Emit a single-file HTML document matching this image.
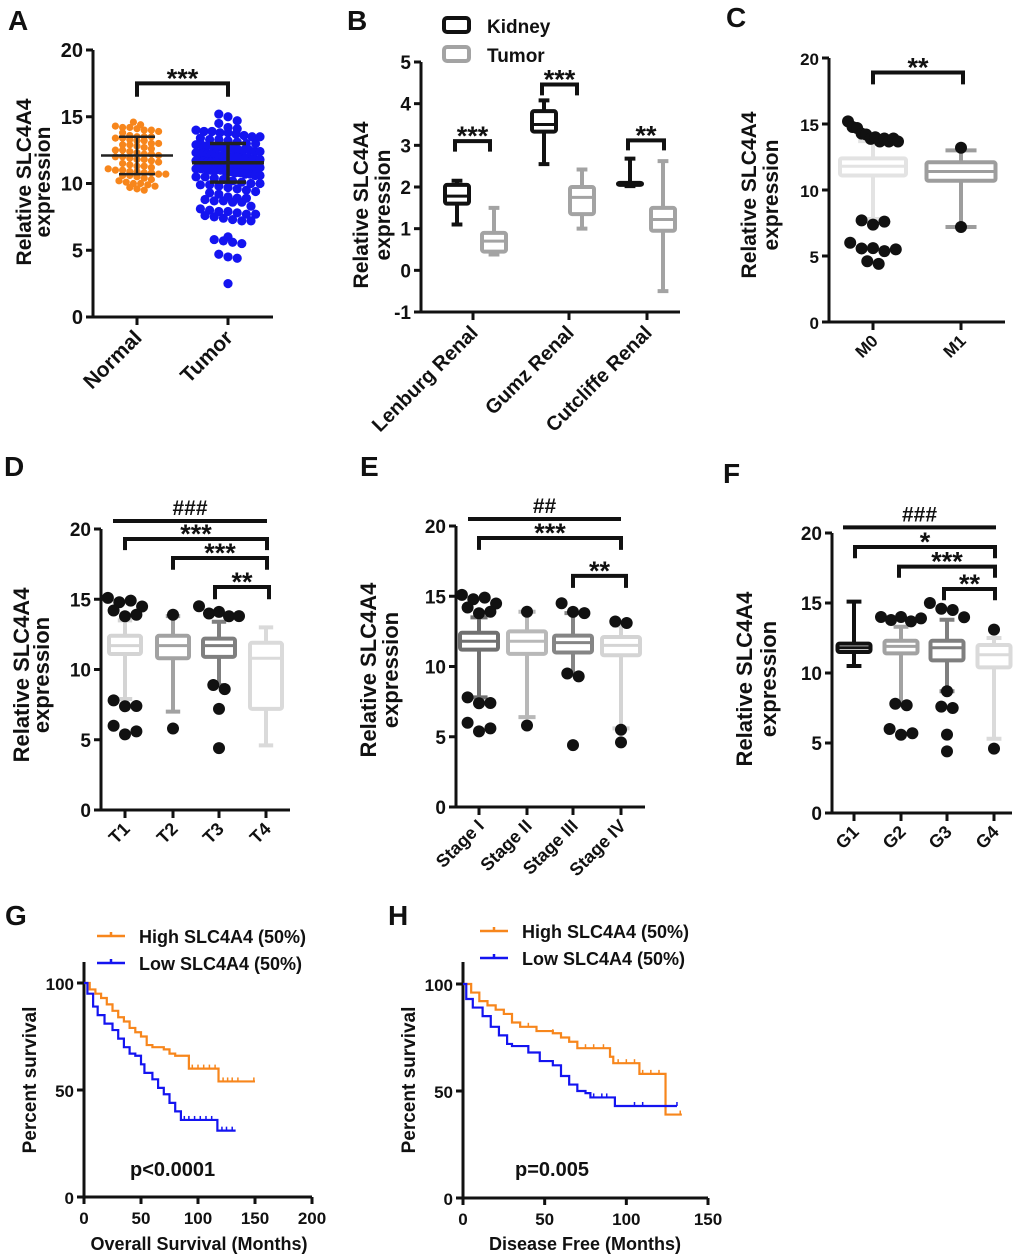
<!DOCTYPE html>
<html><head><meta charset="utf-8"><style>
html,body{margin:0;padding:0;background:#fff;}
svg{display:block;font-family:"Liberation Sans",Arial,sans-serif;font-weight:bold;}
</style></head><body>
<svg id="fig" width="1020" height="1257" viewBox="0 0 1020 1257" xmlns="http://www.w3.org/2000/svg"></svg>
<script>
// ---------- DATA ----------
const normalValues=[14.6,14.4,14.3,14.2,14.2,14.1,14.0,14.0,13.9,13.8,13.6,13.5,13.5,13.5,13.4,13.4,13.3,13.2,13.2,13.0,13.0,12.9,12.9,12.8,12.7,12.6,12.5,12.5,12.4,12.3,12.2,12.2,12.1,12.0,12.0,11.9,11.8,11.8,11.7,11.6,11.5,11.4,11.3,11.3,11.2,11.1,11.0,11.0,10.9,10.9,10.8,10.8,10.7,10.7,10.6,10.6,10.5,10.4,10.3,10.2,10.1,10.0,10.0,9.9,9.8,9.7,9.6,9.5];
const tumorValues=[15.2,15.0,14.7,14.5,14.2,14.1,14.0,13.9,13.9,13.8,13.8,13.7,13.6,13.5,13.5,13.4,13.3,13.3,13.2,13.1,13.0,13.0,12.9,12.9,12.8,12.8,12.7,12.7,12.6,12.6,12.5,12.5,12.5,12.4,12.4,12.3,12.3,12.3,12.2,12.2,12.2,12.1,12.1,12.1,12.0,12.0,12.0,11.9,11.9,11.9,11.8,11.8,11.8,11.7,11.7,11.7,11.6,11.6,11.6,11.5,11.5,11.5,11.4,11.4,11.4,11.3,11.3,11.3,11.2,11.2,11.2,11.1,11.1,11.1,11.0,11.0,11.0,10.9,10.9,10.8,10.8,10.7,10.7,10.6,10.6,10.5,10.5,10.4,10.3,10.2,10.1,10.0,10.0,9.9,9.9,9.8,9.7,9.6,9.5,9.4,9.3,9.2,9.0,8.9,8.9,8.8,8.7,8.7,8.6,8.6,8.3,8.1,8.0,7.9,7.9,7.8,7.7,7.7,7.6,7.5,7.4,7.3,7.2,7.2,6.0,5.8,5.7,5.6,5.5,4.7,4.5,4.4,2.5];
const aStats=[[12.1,10.7,13.5],[11.55,10.1,13.0]]; // mean, sd-low, sd-high

const bCategories=['Lenburg Renal','Gumz Renal','Cutcliffe Renal'];
const bKidney=[[1.1,1.6,1.78,2.05,2.15],[2.55,3.33,3.5,3.82,4.08],[2.02,2.05,2.07,2.1,2.68]];
const bTumor=[[0.38,0.45,0.7,0.9,1.5],[1.0,1.35,1.75,2.0,2.42],[-0.5,0.95,1.22,1.5,2.62]];

const cCategories=['M0','M1'];
const cBoxes=[[7.8,11.1,11.8,12.4,13.7],[7.2,10.7,11.4,12.1,13.0]];
const cOutliers=[[15.2,15.0,14.7,14.5,14.2,14.0,13.9,13.9,13.9,13.9,13.9,14.1,7.7,7.6,7.6,6.0,5.8,5.6,5.6,5.5,4.6,4.4],[13.2,7.2]];

const dCategories=['T1','T2','T3','T4'];
const dBoxes=[[7.9,11.1,11.7,12.4,13.5],[7.0,10.8,11.7,12.4,13.8],[8.9,10.9,11.7,12.2,13.4],[4.6,7.2,10.8,11.9,13.0]];
const dOutliers=[[15.0,15.1,14.9,14.7,14.2,14.0,13.9,7.6,7.4,7.8,6.0,5.6,5.6],[13.9,5.8],[14.5,14.2,14.0,13.8,14.1,8.6,8.9,7.2,4.4],[]];

const eCategories=['Stage I','Stage II','Stage III','Stage IV'];
const eBoxes=[[7.8,11.2,11.8,12.4,13.5],[6.4,10.9,11.8,12.5,13.9],[9.5,11.0,11.7,12.2,13.8],[5.6,10.8,11.5,12.1,12.9]];
const eOutliers=[[15.0,15.1,14.9,14.7,14.2,14.0,13.9,7.6,7.4,7.8,6.0,5.6,5.6],[13.9,5.8],[14.5,14.1,13.8,9.5,9.3,4.4],[13.2,13.1,5.5,4.6]];

const fCategories=['G1','G2','G3','G4'];
const fBoxes=[[10.5,11.5,11.8,12.1,15.1],[7.7,11.4,11.9,12.3,13.3],[8.7,10.9,11.8,12.3,13.8],[5.3,10.4,11.3,12.0,12.5]];
const fOutliers=[[],[14.0,14.0,13.9,13.9,14.0,7.8,7.7,6.0,5.7,5.8],[15.0,14.5,14.2,14.8,7.6,7.5,8.7,5.6,4.4],[13.1,4.6]];

const gHighT=[0,5,10,15,20,25,30,35,40,45,50,55,60,70,75,80,92,118,150];
const gHighS=[100,97,95,93,90,87,84,82,79,77,75,71,70,69,67,66,60,54,54];
const gLowT=[0,3,8,12,18,25,30,35,40,45,50,53,60,65,70,75,80,85,117,133];
const gLowS=[100,95,89,85,81,78,74,70,67,66,62,58,55,51,48,44,40,36,31,31];
const gHighCens=[95,100,105,110,115,122,126,130,135,149];
const gLowCens=[88,92,97,102,107,112,121,125,130];

const hHighT=[0,5,10,15,20,25,30,35,45,55,60,65,70,90,92,108,124,134];
const hHighS=[100,96,92,90,88,86,82,80,78,77,75,73,70,66,63,58,39,39];
const hLowT=[0,2,6,12,17,22,27,30,40,47,55,60,65,70,75,78,93,131];
const hLowS=[100,93,89,85,80,76,72,71,68,64,62,57,53,50,49,47,43,43];
const hHighCens=[35,40,45,55,60,75,80,86,95,100,105,110,115,120,133];
const hLowCens=[80,85,88,105,110,131];

// ---------- HELPERS ----------
const NS='http://www.w3.org/2000/svg';
const svg=document.getElementById('fig');
function mk(tag,attrs,parent){const e=document.createElementNS(NS,tag);for(const k in attrs)e.setAttribute(k,attrs[k]);(parent||svg).appendChild(e);return e;}
function text(x,y,s,size,anchor,parent,rot){const t=mk('text',{x:x,y:y,'font-size':size,'text-anchor':anchor||'middle',fill:'#111'},parent);if(rot)t.setAttribute('transform','rotate('+rot+' '+x+' '+y+')');t.textContent=s;return t;}
function group(name){const g=mk('g',{});return g;}
function scaleY(ax,v){return ax.bot-(v-ax.vmin)/(ax.vmax-ax.vmin)*(ax.bot-ax.top);}

function axes(ax,ticks,g,size){
  const a=mk('path',{d:'M'+ax.x+' '+(ax.axTop||ax.top)+' V'+ax.bot+' M'+(ax.x-7)+' '+ax.bot+' H'+ax.xEnd,stroke:'#111','stroke-width':3,fill:'none'},g);
  
  
  ticks.forEach(v=>{const y=scaleY(ax,v);
    const tk=mk('line',{x1:ax.x-7,x2:ax.x,y1:y,y2:y,stroke:'#111','stroke-width':3},g);
    
    
    const l=text(ax.x-10,y+7,String(v),size||19,'end',g);
    
    
  });
}
function xCats(ax,xs,labels,g,size,dy){
  xs.forEach((x,i)=>{
    const tk=mk('line',{x1:x,x2:x,y1:ax.bot,y2:ax.bot+8,stroke:'#111','stroke-width':3},g);
    
    
    const l=text(x+6,ax.bot+(dy||20),labels[i],size,'end',g,-45);
    
    
  });
}
function yTitle(x1,x2,cy,g,l1,l2,size){
  const a=text(x1,cy,l1,size||22,'middle',g,-90);
  
  
  if(l2){const b=text(x2,cy,l2,size||22,'middle',g,-90);
  
  }
}
function letter(x,y,s){const t=text(x,y,s,28,'start');}
function bracket(ax,x1,x2,v,dropV,label,g,hash){
  const y=scaleY(ax,v);
  let d='M'+x1+' '+y+' H'+x2;
  if(dropV!==null){const yd=scaleY(ax,dropV);d='M'+x1+' '+yd+' V'+y+' H'+x2+' V'+yd;}
  const p=mk('path',{d:d,stroke:'#111','stroke-width':4,fill:'none'},g);
  
  
  const t=text((x1+x2)/2,hash?y-6:y+4,label,hash?21:27,'middle',g);
  
  
}
function box(ax,cx,w,st,color,g,sw){
  const ys=st.map(v=>scaleY(ax,v));
  const cap=w*0.45;
  const p=mk('path',{d:'M'+cx+' '+ys[0]+' V'+ys[1]+' M'+cx+' '+ys[3]+' V'+ys[4]+' M'+(cx-cap/2)+' '+ys[0]+' H'+(cx+cap/2)+' M'+(cx-cap/2)+' '+ys[4]+' H'+(cx+cap/2),stroke:color,'stroke-width':sw||4,fill:'none'},g);
  
  
  const r=mk('rect',{x:cx-w/2,y:ys[3],width:w,height:Math.max(ys[1]-ys[3],1),fill:'#fff',stroke:color,'stroke-width':sw||4,rx:2},g);
  
  
  const m=mk('line',{x1:cx-w/2,x2:cx+w/2,y1:ys[2],y2:ys[2],stroke:color,'stroke-width':(sw||4)-1},g);
  
  
}
function outliers(ax,cx,vals,r,g,spread){
  const sorted=vals.slice().sort((a,b)=>b-a);
  const groups=[];
  sorted.forEach(v=>{const last=groups[groups.length-1];if(last&&Math.abs(last[last.length-1]-v)<0.45)last.push(v);else groups.push([v]);});
  groups.forEach(gr=>{const n=gr.length;const sp=Math.min(2*r*0.95,n>1?2*spread/(n-1):0);
    gr.forEach((v,i)=>{const x=cx+(i-(n-1)/2)*sp;const y=scaleY(ax,v)+((i%2)?3:0)*(n>2?1:0);
      const c=mk('circle',{cx:x,cy:y,r:r,fill:'#111'},g);
      
      
    });});
}
function swarm(ax,cx,vals,r,half,color,g,name){
  const binH=2*r*0.85;const bins={};
  vals.forEach(v=>{const y=scaleY(ax,v);const k=Math.round(y/binH);(bins[k]=bins[k]||[]).push(y);});
  Object.keys(bins).forEach(k=>{const b=bins[k];const n=b.length;const sp=Math.min(2*r,n>1?2*half/(n-1):0);
    b.forEach((y,i)=>{const c=mk('circle',{cx:cx+(i-(n-1)/2)*sp,cy:y,r:r,fill:color},g);
      
      });});
}

// ---------- PANEL A ----------
(function(){
  const g=group('panel-a');letter(8,30,'A');
  const ax={x:93,xEnd:273,top:50,bot:317,vmin:0,vmax:20};
  axes(ax,[0,5,10,15,20],g,20);
  const xs=[137,228];
  swarm(ax,xs[0],normalValues,3.6,33,'#f7861c',g,'normal-point');
  swarm(ax,xs[1],tumorValues,4.6,32,'#1414f0',g,'tumor-point');
  aStats.forEach((s,i)=>{const x=xs[i];const ym=scaleY(ax,s[0]),y1=scaleY(ax,s[1]),y2=scaleY(ax,s[2]);
    const p=mk('path',{d:'M'+(x-36)+' '+ym+' H'+(x+36)+' M'+x+' '+y1+' V'+y2+' M'+(x-18)+' '+y1+' H'+(x+18)+' M'+(x-18)+' '+y2+' H'+(x+18),stroke:'#222','stroke-width':i?3.5:2.5,fill:'none'},g);
    
    });
  xCats(ax,xs,['Normal','Tumor'],g,21,22);
  yTitle(31,50,182,g,'Relative SLC4A4','expression',21);
  bracket(ax,137,228,17.5,16.5,'***',g);
})();

// ---------- PANEL B ----------
(function(){
  const g=group('panel-b');letter(347,30,'B');
  const ax={x:421,xEnd:680,top:62,bot:312,vmin:-1,vmax:5};
  axes(ax,[-1,0,1,2,3,4,5],g,19);
  const kx=[457,544,630],tx=[494,582,663];
  bKidney.forEach((s,i)=>box(ax,kx[i],24,s,'#111',g,4));
  bTumor.forEach((s,i)=>box(ax,tx[i],24,s,'#a3a3a3',g,4));
  xCats(ax,[473,569,647],bCategories,g,20,22);
  yTitle(368,390,205,g,'Relative SLC4A4','expression',21);
  bracket(ax,455,490,3.1,2.85,'***',g);
  bracket(ax,542,577,4.46,4.2,'***',g);
  bracket(ax,628,664,3.12,2.88,'**',g);
  const l1=mk('rect',{x:444,y:18,width:25,height:14,rx:3,fill:'#fff',stroke:'#111','stroke-width':4},g);
  
  
  const l2=mk('rect',{x:444,y:47,width:25,height:14,rx:3,fill:'#fff',stroke:'#a3a3a3','stroke-width':4},g);
  
  
  const t1=text(487,33,'Kidney',19,'start',g);
  const t2=text(487,62,'Tumor',19,'start',g);
})();

// ---------- PANEL C ----------
(function(){
  const g=group('panel-c');letter(726,27,'C');
  const ax={x:829,xEnd:1005,top:58,bot:322,vmin:0,vmax:20};
  axes(ax,[0,5,10,15,20],g,17);
  const xs=[873,961];const cols=['#e3e3e3','#9d9d9d'];
  cBoxes.forEach((s,i)=>box(ax,xs[i],i?69:66,s,cols[i],g,4));
  cOutliers.forEach((o,i)=>outliers(ax,xs[i],o,6,g,i?0:25));
  xCats(ax,xs,cCategories,g,17,20);
  yTitle(756,778,195,g,'Relative SLC4A4','expression',21);
  bracket(ax,873,963,18.9,18.0,'**',g);
})();

// ---------- PANELS D/E/F ----------
function boxPanel(name,L,lx,ly,ax,xs,w,boxes,outs,cols,cats,tsize,tx1,tx2,tcy,br){
  const g=group(name);letter(lx,ly,L);
  axes(ax,[0,5,10,15,20],g,19);
  boxes.forEach((s,i)=>box(ax,xs[i],w,s,cols[i],g,4));
  outs.forEach((o,i)=>outliers(ax,xs[i],o,6,g,20));
  xCats(ax,xs,cats,g,tsize,20);
  yTitle(tx1,tx2,tcy,g,'Relative SLC4A4','expression',22);
  br.forEach(b=>bracket(ax,b[0],b[1],b[2],b[3],b[4],g,b[5]));
}
const axD={x:101,xEnd:290,top:529,bot:810,vmin:0,vmax:20};
boxPanel('panel-d','D',4,476,axD,[125,173,219,266],32,dBoxes,dOutliers,['#d4d4d4','#a2a2a2','#7f7f7f','#dadada'],dCategories,18,29,49,675,
  [[113,267,20.57,null,'###',true],[125,267,19.29,18.5,'***'],[173,267,17.94,17.1,'***'],[215,269,15.87,15.0,'**']]);
const axE={x:456,xEnd:645,top:526,bot:807,vmin:0,vmax:20};
boxPanel('panel-e','E',360,476,axE,[479,527,573,621],38,eBoxes,eOutliers,['#707070','#b8b8b8','#858585','#d4d4d4'],eCategories,18,376,398,670,
  [[468,621,20.5,null,'##',true],[479,621,19.15,18.3,'***'],[573,626,16.45,15.6,'**']]);
const axF={x:832,xEnd:1012,top:533,bot:813,vmin:0,vmax:20};
boxPanel('panel-f','F',723,483,axF,[854,901,947,994],33,fBoxes,fOutliers,['#111','#a2a2a2','#7f7f7f','#dadada'],fCategories,18,752,776,679,
  [[843,996,20.4,null,'###',true],[855,995,19.0,18.2,'*'],[899,995,17.6,16.8,'***'],[944,995,16.0,15.2,'**']]);

// ---------- KM PANELS ----------
function km(name,L,lx,ly,ax,xmax,xticks,series,cens,cols,xtitle,xtcx,ptext,px,legY){
  const g=group(name);letter(lx,ly,L);
  const sx=t=>ax.x+t/xmax*(ax.xEnd-ax.x);
  axes(ax,[0,50,100],g,17);
  xticks.forEach(t=>{const x=sx(t);
    const tk=mk('line',{x1:x,x2:x,y1:ax.bot,y2:ax.bot+7,stroke:'#111','stroke-width':3},g);
    
    
    const l=text(x,ax.bot+27,String(t),17,'middle',g);
    
    });
  series.forEach((s,k)=>{const T=s[0],S=s[1];let d='M'+sx(T[0])+' '+scaleY(ax,S[0]);
    for(let i=1;i<T.length;i++){d+=' H'+sx(T[i])+' V'+scaleY(ax,S[i]);}
    const p=mk('path',{d:d,stroke:cols[k],'stroke-width':2.2,fill:'none'},g);
    
    
    cens[k].forEach(t=>{let v=S[0];for(let i=0;i<T.length;i++){if(T[i]<=t)v=S[i];}
      const c=mk('line',{x1:sx(t),x2:sx(t),y1:scaleY(ax,v),y2:scaleY(ax,v)-4,stroke:cols[k],'stroke-width':1.5},g);
      
      });
  });
  yTitle(ax.x-48,0,1080,g,'Percent survival',null,19);
  const xt=text(xtcx,1250,xtitle,18,'middle',g);
  const pt=text(px,1176,ptext,20,'start',g);
  ['High SLC4A4 (50%)','Low SLC4A4 (50%)'].forEach((s,k)=>{const y=legY[k];
    const ln=mk('path',{d:'M'+(lx+92)+' '+y+' H'+(lx+120)+' M'+(lx+106)+' '+y+' V'+(y-4),stroke:cols[k],'stroke-width':2.5,fill:'none'},g);
    
    
    const t=text(lx+134,y+7,s,18,'start',g);
    
    });
}
km('panel-g','G',5,925,{x:84,xEnd:312,top:983,axTop:962,bot:1197,vmin:0,vmax:100},200,[0,50,100,150,200],
  [[gHighT,gHighS],[gLowT,gLowS]],[gHighCens,gLowCens],['#f7861c','#1414f0'],'Overall Survival (Months)',199,'p<0.0001',130,[936,963]);
km('panel-h','H',388,925,{x:463,xEnd:708,top:984,axTop:962,bot:1198,vmin:0,vmax:100},150,[0,50,100,150],
  [[hHighT,hHighS],[hLowT,hLowS]],[hHighCens,hLowCens],['#f7861c','#1414f0'],'Disease Free (Months)',585,'p=0.005',515,[931,958]);
</script>
</body></html>
